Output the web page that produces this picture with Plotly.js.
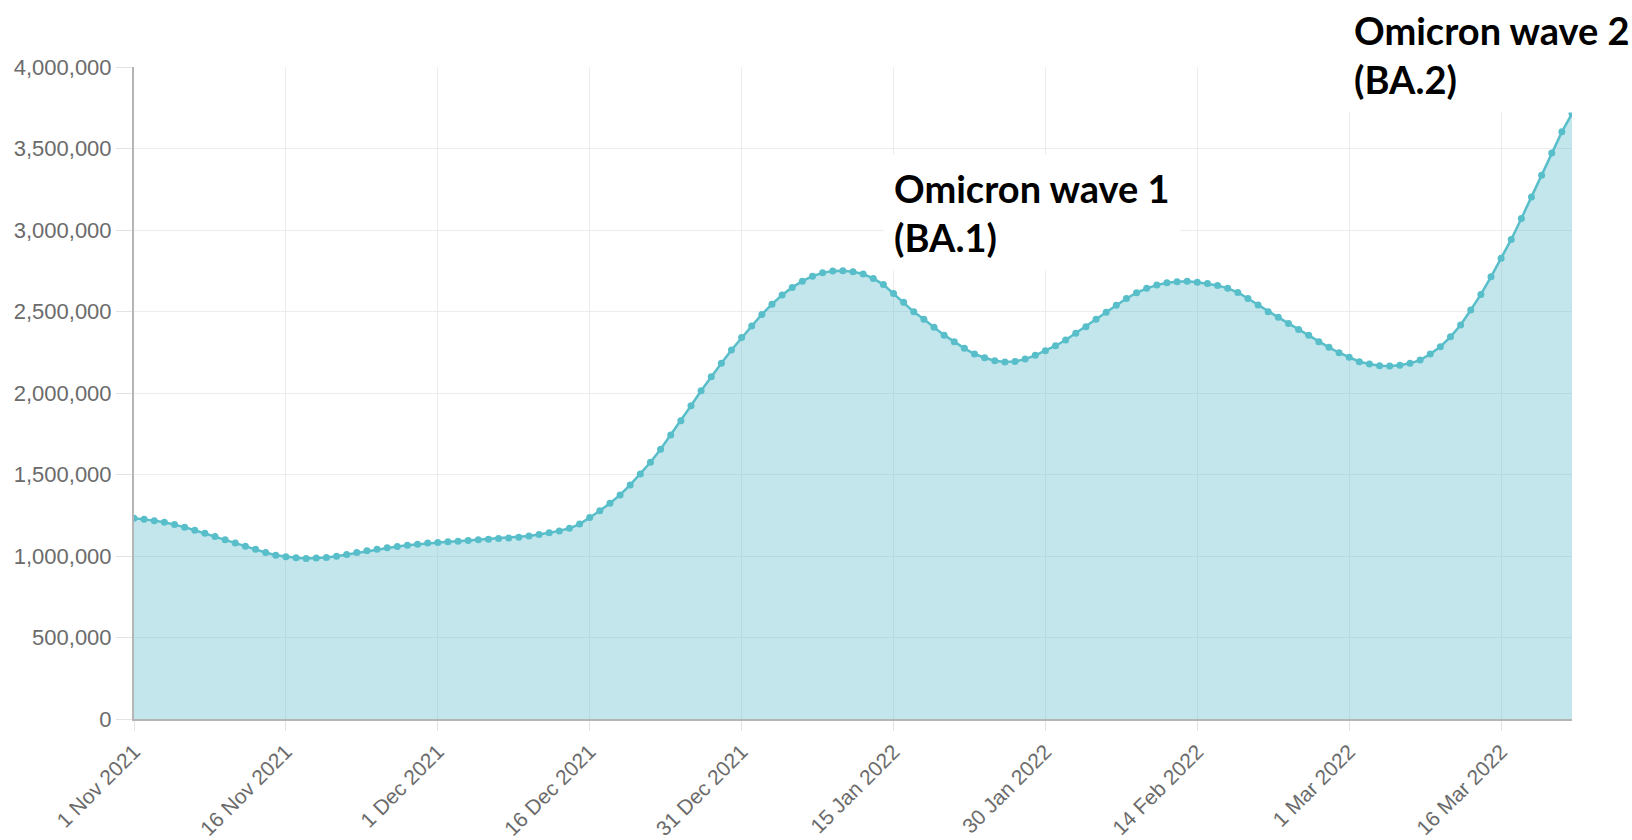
<!DOCTYPE html>
<html><head><meta charset="utf-8">
<script src="https://cdn.plot.ly/plotly-3.0.1.min.js"></script>
<style>html,body{margin:0;padding:0;background:#fff}#chart{width:1632px;height:840px}</style>
</head><body><div id="chart"></div>
<script>
// Daily series starting 1 Nov 2021
const startDate = '2021-11-01';
const dailyValues = [
  1232000,1226000,1217000,1207000,1193000,1177000,1158000,1140000,1119000,1099000,
  1079000,1060000,1042000,1021000,1005000,995000,989000,985000,987000,991000,
  999000,1009000,1021000,1032000,1042000,1050000,1058000,1066000,1072000,1079000,
  1083000,1087000,1091000,1095000,1099000,1103000,1107000,1111000,1115000,1123000,
  1132000,1142000,1154000,1170000,1196000,1236000,1277000,1324000,1375000,1436000,
  1503000,1575000,1655000,1743000,1830000,1922000,2014000,2100000,2182000,2264000,
  2341000,2411000,2482000,2545000,2601000,2648000,2686000,2717000,2737000,2748000,
  2750000,2744000,2730000,2703000,2665000,2610000,2556000,2498000,2452000,2403000,
  2355000,2315000,2274000,2239000,2216000,2198000,2190000,2194000,2208000,2231000,
  2259000,2290000,2325000,2366000,2406000,2452000,2495000,2539000,2580000,2615000,
  2642000,2662000,2676000,2682000,2685000,2680000,2672000,2660000,2642000,2617000,
  2580000,2540000,2499000,2464000,2427000,2390000,2354000,2315000,2280000,2247000,
  2219000,2192000,2178000,2167000,2165000,2170000,2182000,2202000,2239000,2284000,
  2345000,2417000,2509000,2605000,2713000,2826000,2942000,3071000,3203000,3336000,
  3473000,3602000,3714000
];
const tickDates = ['2021-11-01','2021-11-16','2021-12-01','2021-12-16','2021-12-31',
  '2022-01-15','2022-01-30','2022-02-14','2022-03-01','2022-03-16'];
const tickLabels = ['1 Nov 2021','16 Nov 2021','1 Dec 2021','16 Dec 2021','31 Dec 2021',
  '15 Jan 2022','30 Jan 2022','14 Feb 2022','1 Mar 2022','16 Mar 2022'];
const yTickVals = [0,500000,1000000,1500000,2000000,2500000,3000000,3500000,4000000];
const waveLabels = ['Omicron wave 1<br>(BA.1)','Omicron wave 2<br>(BA.2)'];

// consecutive daily dates for the series
const dates = [];
const d0 = new Date(startDate + 'T00:00:00Z');
for (let i = 0; i < dailyValues.length; i++) {
  const d = new Date(d0.getTime() + i * 86400000);
  dates.push(d.toISOString().slice(0,10));
}

const lineColor = 'rgb(88,190,201)';
const trace = {
  x: dates, y: dailyValues, type: 'scatter', mode: 'lines+markers',
  line: {color: lineColor, width: 2.5},
  marker: {color: lineColor, size: 7},
  fill: 'tozeroy', fillcolor: 'rgba(102,193,207,0.4)',
  hoverinfo: 'skip', cliponaxis: true
};

const xTickFont = {family: 'Liberation Sans, Arial, sans-serif', size: 21, color: '#6b6b6b'};
const yTickFont = {family: 'Liberation Sans, Arial, sans-serif', size: 22, color: '#6b6b6b'};
const annFont = {family: 'Lato, Carlito, sans-serif', size: 38, color: '#000', weight: 700};

const layout = {
  width: 1632, height: 840, autosize: false,
  paper_bgcolor: '#fff', plot_bgcolor: '#fff',
  margin: {l: 134, r: 60, t: 67, b: 121},
  showlegend: false,
  xaxis: {
    type: 'date', range: [dates[0], dates[dates.length-1]],
    tickmode: 'array', tickvals: tickDates, ticktext: tickLabels,
    tickangle: -45, tickfont: xTickFont,
    showgrid: true, gridcolor: '#ececec', gridwidth: 1,
    ticks: 'outside', ticklen: 10, tickcolor: '#e3e3e3',
    showline: true, linecolor: '#b5b5b5', linewidth: 2,
    zeroline: false
  },
  yaxis: {
    range: [0, 4000000], tickmode: 'array', tickvals: yTickVals,
    tickformat: ',d', tickfont: yTickFont,
    showgrid: true, gridcolor: '#ececec', gridwidth: 1,
    ticks: 'outside', ticklen: 16, tickcolor: '#e3e3e3',
    showline: true, linecolor: '#b5b5b5', linewidth: 2,
    zeroline: false
  },
  annotations: [
    {text: waveLabels[0], xref: 'x', yref: 'y', x: '2022-01-14', y: 2747000,
     xanchor: 'left', yanchor: 'bottom', showarrow: false, align: 'left',
     font: annFont, bgcolor: '#fff', borderpad: 10},
    {text: waveLabels[1], xref: 'x', yref: 'y', x: '2022-02-28 10:00', y: 3717000,
     xanchor: 'left', yanchor: 'bottom', showarrow: false, align: 'left',
     font: annFont, bgcolor: '#fff', borderpad: 10}
  ]
};

Plotly.newPlot('chart', [trace], layout, {displayModeBar: false, staticPlot: true});
</script>
</body></html>
